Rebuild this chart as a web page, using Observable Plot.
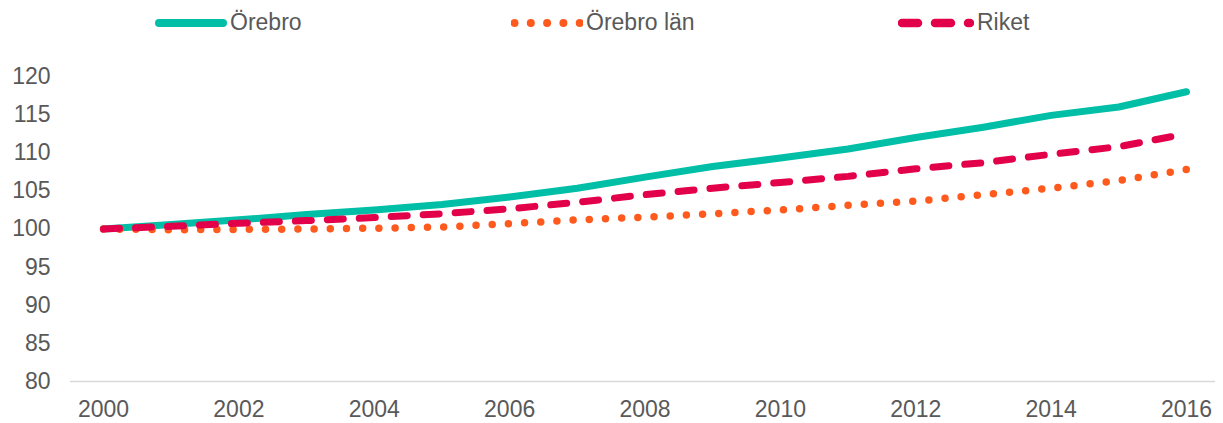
<!DOCTYPE html>
<html>
<head>
<meta charset="utf-8">
<script src="https://cdn.jsdelivr.net/npm/d3@7"></script>
<script src="https://cdn.jsdelivr.net/npm/@observablehq/plot@0.6"></script>
<style>
  html, body { margin: 0; padding: 0; background: #fff; }
  body { width: 1223px; height: 423px; overflow: hidden; font-family: "Liberation Sans", Arial, sans-serif; }
  #legend { position: relative; height: 45px; width: 1223px; }
  .item { position: absolute; top: 0; height: 45px; display: flex; align-items: center; }
  .item span { font-size: 23px; color: #595959; margin-left: 3px; line-height: 1; }
  .item svg { display: block; }
</style>
</head>
<body>
<div id="legend"></div>
<div id="chart"></div>
<script>
const years = [2000, 2001, 2002, 2003, 2004, 2005, 2006, 2007, 2008, 2009, 2010, 2011, 2012, 2013, 2014, 2015, 2016];
const orebro    = [100, 100.6, 101.2, 101.9, 102.5, 103.2, 104.2, 105.35, 106.8, 108.2, 109.3, 110.5, 112.0, 113.35, 114.9, 116.0, 118.0];
const orebroLan = [100, 99.9, 99.95, 100.0, 100.1, 100.25, 100.7, 101.2, 101.55, 102.0, 102.5, 103.1, 103.65, 104.5, 105.35, 106.35, 107.8];
const riket     = [100, 100.35, 100.75, 101.1, 101.5, 102.0, 102.65, 103.5, 104.5, 105.35, 106.1, 106.9, 107.9, 108.7, 109.8, 110.8, 112.5];
const seriesNames = ["Örebro", "Örebro län", "Riket"];
const xTicks = [2000, 2002, 2004, 2006, 2008, 2010, 2012, 2014, 2016];
const yTicks = [80, 85, 90, 95, 100, 105, 110, 115, 120];
const yDomain = [80, 120];

const colors = ["#00BFA6", "#FF5A1E", "#E3004B"];
const styles = [
  {strokeWidth: 7, dash: null},
  {strokeWidth: 7.5, dash: "0,16.2"},
  {strokeWidth: 7, dash: "16,16"}
];
const seriesValues = [orebro, orebroLan, riket];

// Legend
const legendPos = [155, 511, 898];
const legendSwatch = [
  {w: 8, dash: null, x1: 4, x2: 68, width: 72},
  {w: 8, dash: "0,16.3", x1: 3.5, x2: 69.5, width: 72},
  {w: 8.5, dash: "16,17", x1: 4, x2: 72, width: 76}
];
const legend = document.getElementById("legend");
seriesNames.forEach((name, i) => {
  const item = document.createElement("div");
  item.className = "item";
  item.style.left = legendPos[i] + "px";
  const s = legendSwatch[i];
  item.innerHTML = `<svg width="${s.width}" height="14"><line x1="${s.x1}" x2="${s.x2}" y1="7" y2="7" stroke="${colors[i]}" stroke-width="${s.w}" stroke-linecap="round" ${s.dash ? `stroke-dasharray="${s.dash}"` : ""}/></svg><span>${name}</span>`;
  legend.appendChild(item);
});

const lineMarks = seriesNames.map((name, i) => {
  const rows = years.map((y, j) => ({year: y, value: seriesValues[i][j], series: name}));
  const opts = {
    x: "year", y: "value",
    stroke: colors[i], strokeWidth: styles[i].strokeWidth,
    strokeLinecap: "round", strokeLinejoin: "round"
  };
  if (styles[i].dash) opts.strokeDasharray = styles[i].dash;
  return Plot.lineY(rows, opts);
});

const chart = Plot.plot({
  width: 1223,
  height: 378,
  marginTop: 31,
  marginBottom: 42,
  marginLeft: 70,
  marginRight: 8,
  insetLeft: 33,
  insetRight: 29,
  style: {fontFamily: "'Liberation Sans', Arial, sans-serif", fontSize: "23px", color: "#595959", background: "#fff"},
  x: {domain: [years[0], years[years.length - 1]], ticks: xTicks, tickFormat: d => String(d), tickSize: 0, tickPadding: 19, label: null},
  y: {domain: yDomain, ticks: yTicks, tickSize: 0, tickPadding: 20, label: null},
  marks: [
    Plot.ruleY([yDomain[0]], {stroke: "#D9D9D9", strokeWidth: 1.5}),
    ...lineMarks
  ]
});
document.getElementById("chart").appendChild(chart);
</script>
</body>
</html>
